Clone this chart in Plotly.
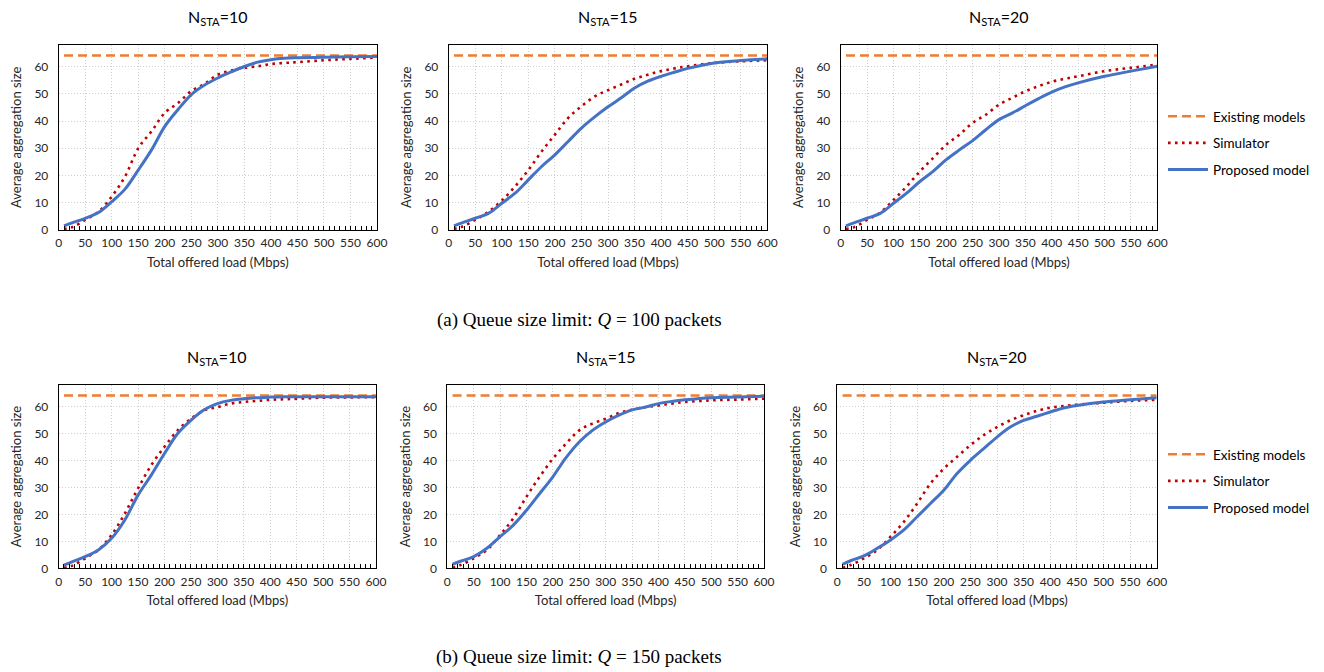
import plotly.graph_objects as go

# ---------------- data ----------------
X = [10, 25, 50, 75, 100, 125, 150, 175, 200, 225, 250, 275, 300, 325, 350,
     375, 400, 425, 450, 500, 550, 600]
EXISTING = 64

# (a) Q = 100 packets
sim_q100_n10 = [0.4, 1.0, 3.7, 6.7, 12.3, 19.6, 30.0, 36.2, 43.0, 46.6, 51.0, 53.6, 57.0, 58.5, 59.5,
                60.1, 60.9, 61.3, 61.6, 62.3, 62.8, 63.3]
prop_q100_n10 = [1.5, 2.6, 4.3, 6.4, 10.4, 15.0, 22.0, 29.4, 38.0, 44.2, 49.7, 53.2, 55.8, 58.0, 60.0,
                 61.6, 62.5, 63.0, 63.2, 63.4, 63.6, 63.7]
sim_q100_n15 = [0.4, 1.2, 3.7, 6.7, 10.8, 16.0, 22.0, 28.8, 35.0, 41.1, 45.4, 49.0, 51.3, 53.4, 55.5,
                57.0, 58.3, 59.3, 60.1, 61.3, 61.9, 62.3]
prop_q100_n15 = [1.5, 2.6, 4.3, 6.1, 9.8, 13.5, 18.4, 23.3, 27.6, 32.5, 37.4, 41.5, 45.2, 48.5, 52.1,
                 54.6, 56.4, 57.9, 59.3, 61.3, 62.2, 62.8]
sim_q100_n20 = [0.4, 1.0, 3.7, 6.4, 11.0, 16.0, 21.5, 26.4, 31.3, 35.0, 39.3, 42.3, 46.0, 48.5, 50.9,
                52.8, 54.4, 55.5, 56.4, 58.3, 59.5, 60.7]
prop_q100_n20 = [1.5, 2.6, 4.3, 6.1, 9.8, 13.5, 17.8, 21.5, 25.8, 29.4, 32.8, 36.8, 40.5, 42.9, 45.6,
                 48.2, 50.6, 52.5, 54.0, 56.4, 58.3, 60.1]

# (b) Q = 150 packets
sim_q150_n10 = [0.2, 0.9, 3.7, 6.8, 12.3, 20.3, 29.6, 38.2, 45.0, 51.1, 55.4, 58.5, 59.7, 61.0, 61.6,
                62.0, 62.4, 62.6, 62.8, 63.2, 63.3, 63.4]
prop_q150_n10 = [1.2, 2.4, 4.3, 6.8, 11.1, 17.9, 27.1, 34.5, 42.5, 49.9, 54.8, 58.7, 61.0, 62.2, 62.8,
                 63.2, 63.4, 63.5, 63.5, 63.5, 63.5, 63.5]
sim_q150_n15 = [0.2, 1.2, 3.7, 6.8, 12.3, 18.5, 26.5, 33.9, 40.6, 46.2, 51.1, 53.6, 55.4, 57.5, 58.7,
                59.7, 60.3, 61.0, 61.6, 62.2, 62.5, 62.8]
prop_q150_n15 = [1.5, 2.6, 4.3, 7.4, 11.7, 16.0, 21.5, 27.7, 33.9, 41.0, 46.8, 51.1, 54.2, 56.7, 58.7,
                 59.7, 61.0, 61.8, 62.4, 63.2, 63.4, 63.7]
sim_q150_n20 = [0.2, 1.2, 3.7, 6.8, 11.7, 17.2, 24.0, 31.4, 36.9, 41.3, 45.6, 49.3, 52.3, 54.8, 56.7,
                58.3, 59.5, 60.1, 60.6, 61.3, 62.0, 62.4]
prop_q150_n20 = [1.5, 2.8, 4.6, 7.4, 10.5, 14.2, 19.1, 24.0, 28.9, 35.1, 40.0, 44.3, 48.6, 52.3, 54.8,
                 56.3, 57.9, 59.4, 60.3, 61.6, 62.4, 63.2]

PANEL_TITLES = ["N<sub>STA</sub>=10", "N<sub>STA</sub>=15", "N<sub>STA</sub>=20"]
CAPTIONS = ["(a) Queue size limit: <i>Q</i> = 100 packets",
            "(b) Queue size limit: <i>Q</i> = 150 packets"]
X_TICKS = list(range(0, 601, 50))
Y_TICKS = list(range(0, 61, 10))

rows = [
    [(sim_q100_n10, prop_q100_n10), (sim_q100_n15, prop_q100_n15), (sim_q100_n20, prop_q100_n20)],
    [(sim_q150_n10, prop_q150_n10), (sim_q150_n15, prop_q150_n15), (sim_q150_n20, prop_q150_n20)],
]

# ---------------- layout geometry (pixels) ----------------
W, H = 1324, 672
col_px = [[(58.7, 377.0), (448.7, 767.3), (840.7, 1157.3)],
          [(58.7, 376.0), (447.3, 764.0), (837.3, 1156.7)]]
row_px = [(44.7, 230.0), (384.7, 568.3)]

FONT = "Lato"
C_EXIST = "#ED7D31"
C_SIM = "#C00000"
C_PROP = "#4472C4"
TXT = "#262626"

fig = go.Figure()
layout = {}
annotations = []

idx = 0
for r in range(2):
    legend_name = "legend" if r == 0 else "legend2"
    for c in range(3):
        idx += 1
        xa = "x" if idx == 1 else f"x{idx}"
        ya = "y" if idx == 1 else f"y{idx}"
        sim, prop = rows[r][c]
        show = (c == 0)
        fig.add_trace(go.Scatter(
            x=X, y=[EXISTING] * len(X), mode="lines", name="Existing models",
            line=dict(color=C_EXIST, width=2.5, dash="9px,5px"),
            xaxis=xa, yaxis=ya, showlegend=show, legend=legend_name,
            legendgroup=f"e{r}"))
        fig.add_trace(go.Scatter(
            x=X, y=sim, mode="lines", name="Simulator", line_shape="spline",
            line=dict(color=C_SIM, width=2.6, dash="2.6px,4.4px"),
            xaxis=xa, yaxis=ya, showlegend=show, legend=legend_name,
            legendgroup=f"s{r}"))
        fig.add_trace(go.Scatter(
            x=X, y=prop, mode="lines", name="Proposed model", line_shape="spline",
            line=dict(color=C_PROP, width=3),
            xaxis=xa, yaxis=ya, showlegend=show, legend=legend_name,
            legendgroup=f"p{r}"))

        x0, x1 = col_px[r][c]
        y0, y1 = row_px[r]
        layout["xaxis" if idx == 1 else f"xaxis{idx}"] = dict(
            domain=[x0 / W, x1 / W], anchor=ya, range=[0, 600], automargin=False,
            tickvals=X_TICKS, ticks="inside", ticklen=4, tickcolor="black",
            showline=True, linecolor="black", linewidth=1, mirror=True,
            showgrid=True, gridcolor="#CFCFCF", griddash="1px,2px", gridwidth=1,
            minor=dict(dtick=10, ticks="inside", ticklen=4, tickcolor="black", showgrid=False),
            tickfont=dict(family=FONT, size=12, color=TXT), ticklabelstandoff=2,
            title=dict(text="Total offered load (Mbps)", standoff=8,
                       font=dict(family=FONT, size=13, color=TXT)),
            zeroline=False, fixedrange=True)
        layout["yaxis" if idx == 1 else f"yaxis{idx}"] = dict(
            domain=[1 - y1 / H, 1 - y0 / H], anchor=xa, range=[0, 68], automargin=False,
            tickvals=Y_TICKS, ticks="", ticklabelstandoff=7,
            showline=True, linecolor="black", linewidth=1, mirror=True,
            showgrid=True, gridcolor="#CFCFCF", griddash="1px,2px", gridwidth=1,
            tickfont=dict(family=FONT, size=12, color=TXT),
            title=dict(text="Average aggregation size", standoff=9,
                       font=dict(family=FONT, size=13, color=TXT)),
            zeroline=False, fixedrange=True)
        annotations.append(dict(
            text=PANEL_TITLES[c], xref="paper", yref="paper",
            x=(x0 + x1) / 2 / W, y=1 - (y0 - 27) / H, xanchor="center", yanchor="middle",
            showarrow=False, font=dict(family=FONT, size=16, color="black")))

for r, cy in enumerate([320, 657]):
    annotations.append(dict(
        text=CAPTIONS[r], xref="paper", yref="paper",
        x=579 / W, y=1 - cy / H, xanchor="center", yanchor="middle",
        showarrow=False, font=dict(family="Liberation Serif", size=19, color="black")))

legend_common = dict(
    xanchor="left", yanchor="top", bgcolor="rgba(0,0,0,0)",
    font=dict(family=FONT, size=13.5, color="black"), tracegroupgap=6,
    itemwidth=40, orientation="v")
layout["legend"] = dict(x=1163 / W, y=1 - 101 / H, **legend_common)
layout["legend2"] = dict(x=1163 / W, y=1 - 439 / H, **legend_common)

fig.update_layout(
    width=W, height=H, margin=dict(l=0, r=0, t=0, b=0),
    plot_bgcolor="white", paper_bgcolor="white",
    annotations=annotations, **layout)

fig.write_html("out.html", config={"displayModeBar": False},
               post_script="document.body.style.margin='0';document.body.style.overflow='hidden';")
